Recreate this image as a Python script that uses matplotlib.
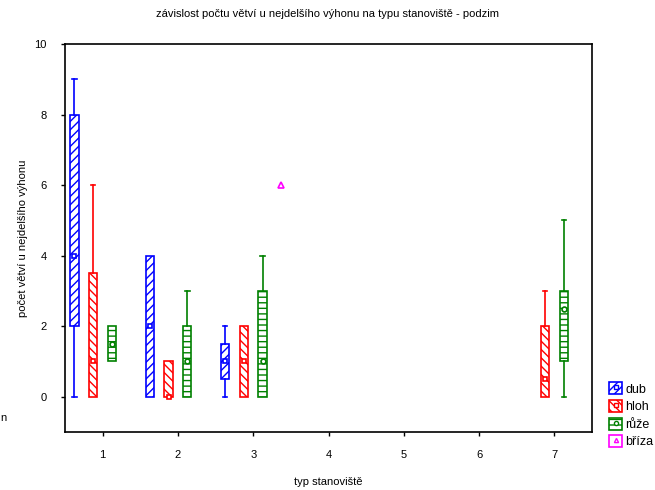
import matplotlib.pyplot as plt
from matplotlib.patches import Rectangle
from matplotlib.lines import Line2D

plt.rcParams['font.family'] = ['Liberation Sans', 'DejaVu Sans']
plt.rcParams['hatch.linewidth'] = 1.0

# typ stanoviste 1..7, skupiny: dub, hloh, ruze, briza
groups = ['dub', 'hloh', 'růže', 'bříza']
colors = ['#0000ff', '#ff0000', '#008000', '#ff00ff']
hatches = ['////', '\\\\\\\\', '---', None]
markers = ['s', 's', 'o', '^']

# (stanoviste, whisker_lo, box_lo, median, box_hi, whisker_hi)
dub = [(1, 0, 2, 4, 8, 9), (2, 0, 0, 2, 4, 4), (3, 0, 0.5, 1, 1.5, 2)]
hloh = [(1, 0, 0, 1, 3.5, 6), (2, 0, 0, 0, 1, 1), (3, 0, 0, 1, 2, 2), (7, 0, 0, 0.5, 2, 3)]
ruze = [(1, 1, 1, 1.5, 2, 2), (2, 0, 0, 1, 2, 3), (3, 0, 0, 1, 3, 4), (7, 0, 1, 2.5, 3, 5)]
briza = [(3, 6, 6, 6, 6, 6)]
data = [dub, hloh, ruze, briza]

offsets = [-0.375, -0.125, 0.125, 0.375]
bw = 0.11

fig = plt.figure(figsize=(6.55, 4.9), dpi=100)
ax = fig.add_axes([65 / 655, 58 / 490, 527 / 655, 388 / 490])

for gi, rows in enumerate(data):
    c = colors[gi]
    for (pos, wlo, blo, med, bhi, whi) in rows:
        x = pos + offsets[gi]
        if gi == 3:
            ax.plot(x, med, marker='^', ms=4, mfc='white', mec=c, mew=1.2)
            continue
        if whi > bhi:
            ax.plot([x, x], [bhi, whi], color=c, lw=1.2)
            ax.plot([x - 0.03, x + 0.03], [whi, whi], color=c, lw=1.2)
        if wlo < blo:
            ax.plot([x, x], [wlo, blo], color=c, lw=1.2)
            ax.plot([x - 0.03, x + 0.03], [wlo, wlo], color=c, lw=1.2)
        ax.add_patch(Rectangle((x - bw / 2, blo), bw, bhi - blo, facecolor='white',
                               edgecolor=c, hatch=hatches[gi], lw=1.2))
        ax.plot(x, med, marker=markers[gi], ms=3.5, mfc='white', mec=c, mew=1.2)

ax.set_xlim(0.5, 7.5)
ax.set_ylim(-1, 10)
ax.set_xticks(range(1, 8))
ax.set_yticks(range(0, 11, 2))
ax.tick_params(labelsize=8, length=3, width=1)
ax.tick_params(axis='y', pad=10)
ax.tick_params(axis='x', pad=10)
for s in ax.spines.values():
    s.set_linewidth(1.2)

ax.set_xlabel('typ stanoviště', fontsize=8, labelpad=12)
ax.set_ylabel('počet větví u nejdelšího výhonu', fontsize=8, labelpad=5)
fig.text(0.5, 1 - 14 / 490, 'závislost počtu větví u nejdelšího výhonu na typu stanoviště - podzim',
         ha='center', va='center', fontsize=8)
fig.text(0.0, 1 - 418 / 490, 'n', fontsize=8, va='center')

handles = []
for gi, g in enumerate(groups):
    handles.append((Rectangle((0, 0), 1, 1, facecolor='white', edgecolor=colors[gi],
                              hatch=hatches[gi], lw=1.2),
                    Line2D([], [], ls='', marker=markers[gi], ms=3, mfc='white',
                           mec=colors[gi])))
fig.legend(handles, groups, loc='upper left', bbox_to_anchor=(603 / 655, 1 - 376 / 490),
           frameon=False, fontsize=9, handlelength=1.0, handleheight=1.1,
           handletextpad=0.3, labelspacing=0.35, borderpad=0)

fig.savefig('out.png', dpi=100)
